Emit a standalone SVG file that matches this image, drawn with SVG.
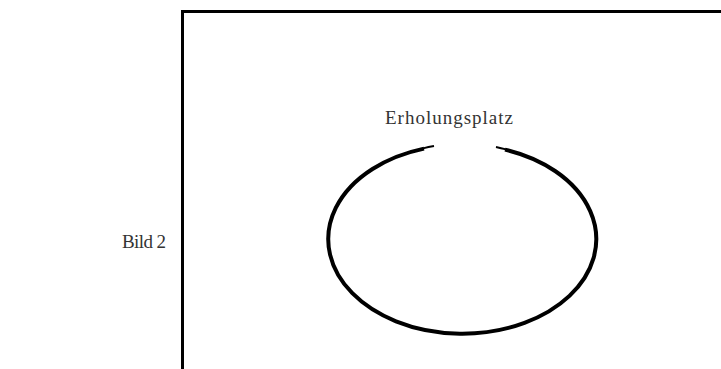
<svg xmlns="http://www.w3.org/2000/svg" width="721" height="369" viewBox="0 0 721 369">
<style>
.t{font-family:"Liberation Serif","Times New Roman",serif;font-size:19px;fill:#333}
.frame{fill:none;stroke:#000;stroke-width:3}
.ring{fill:none;stroke:#000;stroke-width:4}
.tip{fill:none;stroke:#000;stroke-width:2}
</style>
<rect width="721" height="369" fill="#fff"/>
<g id="frame"><path class="frame" d="M182.5 372 V11.5 H724"/></g>
<g id="label-bild"><text class="t" x="122" y="248" textLength="44">Bild 2</text></g>
<g id="erholungsplatz">
<path class="ring" d="M424 148.6 A134 94.5 0 1 0 505 149.6"/>
<path class="tip" d="M423 148.4 A134 94.5 0 0 1 434 146.1"/>
<path class="tip" d="M496 146.9 A134 94.5 0 0 1 506 149.4"/>
<text class="t" x="385" y="124" textLength="128">Erholungsplatz</text>
</g>
<g id="connectors"></g>
</svg>
